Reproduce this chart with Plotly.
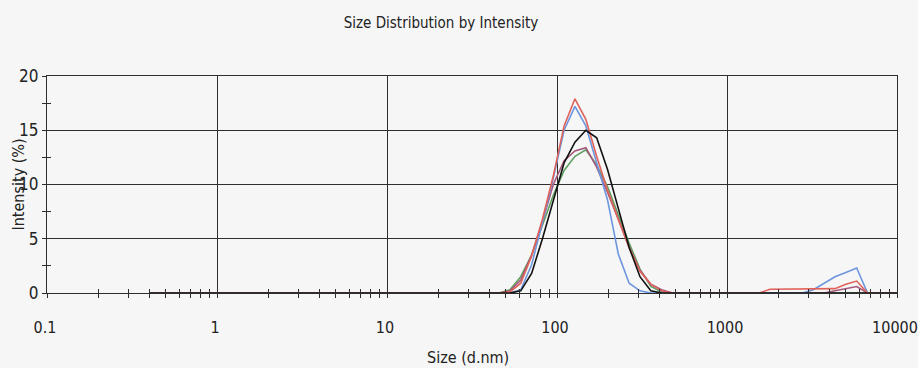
import plotly.graph_objects as go

# Size bins (d.nm)
sizes = [0.4, 45.6, 52.9, 61.2, 70.9, 82.1, 95.1, 110.1, 127.5, 147.8, 171.1, 198.1,
         229.4, 265.7, 307.7, 356.4, 412.7, 478.0, 553.5, 641.0, 742.0, 859.7, 995.5,
         1152, 1335, 1546, 1790, 2074, 2402, 2781, 3221, 3730, 4319, 5003, 5794, 6709,
         7769, 8998, 10000]

# Intensity (%) for each record
black = [0, 0, 0, 0.2, 1.8, 5.0, 8.4, 12.0, 13.9, 15.0, 14.3, 11.4, 7.8, 4.2, 1.5, 0.2, 0,
         0, 0, 0, 0, 0, 0, 0, 0, 0, 0, 0, 0, 0, 0, 0, 0, 0, 0, 0, 0, 0, 0]
green = [0, 0, 0.3, 1.5, 3.5, 6.2, 9.0, 11.3, 12.6, 13.2, 11.8, 9.8, 7.2, 4.6, 2.2, 0.6, 0.1,
         0, 0, 0, 0, 0, 0, 0, 0, 0, 0, 0, 0, 0, 0, 0, 0, 0, 0, 0, 0, 0, 0]
mauve = [0, 0, 0.2, 1.2, 3.5, 6.6, 10.0, 12.2, 13.1, 13.4, 11.6, 9.3, 6.8, 4.2, 2.1, 0.8, 0.3,
         0, 0, 0, 0, 0, 0, 0, 0, 0, 0, 0, 0, 0, 0, 0, 0.2, 0.4, 0.6, 0, 0, 0, 0]
blue = [0, 0, 0, 0.3, 2.6, 6.5, 10.6, 15.0, 17.2, 15.4, 12.0, 8.6, 3.6, 0.9, 0.2, 0, 0,
        0, 0, 0, 0, 0, 0, 0, 0, 0, 0, 0, 0, 0, 0.3, 0.9, 1.5, 1.9, 2.3, 0, 0, 0, 0]
red = [0, 0, 0.1, 0.9, 3.4, 6.8, 10.8, 15.4, 17.9, 16.0, 12.6, 9.5, 6.8, 4.2, 2.0, 0.8, 0.2,
       0, 0, 0, 0, 0, 0, 0, 0, 0, 0.35, 0.35, 0.35, 0.35, 0.35, 0.35, 0.4, 0.8, 1.1, 0, 0, 0, 0]

x_ticks = [0.1, 1, 10, 100, 1000, 10000]
x_ticktext = ["0.1", "1", "10", "100", "1000", "10000"]
y_ticks = [0, 5, 10, 15, 20]

FONT = "Liberation Sans Narrow, DejaVu Sans Condensed, Arial Narrow, Liberation Sans, Arial, sans-serif"
GRID = "#2e2e2e"
BG = "#f6f6f6"

series = [
    ("black", black, "#111111", "x2", "y2"),
    ("green", green, "#5f9e62", "x", "y"),
    ("mauve", mauve, "#a4577c", "x", "y"),
    ("blue", blue, "#6d96df", "x", "y"),
    ("red", red, "#e0625a", "x", "y"),
]

fig = go.Figure()
for name, vals, col, xa, ya in series:
    fig.add_trace(go.Scatter(x=sizes, y=vals, mode="lines", name=name,
                             line=dict(color=col, width=1.6),
                             xaxis=xa, yaxis=ya, showlegend=False))

common_x = dict(type="log", range=[-1, 4], tickvals=x_ticks, automargin=False)
common_y = dict(range=[0, 20], tickvals=y_ticks, automargin=False)

L, R, T, B = 47, 21, 76, 75
PW, PH = 918 - L - R, 368 - T - B
fig.update_layout(
    width=918, height=368,
    margin=dict(l=L, r=R, t=T, b=B),
    paper_bgcolor=BG, plot_bgcolor=BG,
    font=dict(family=FONT, size=17, color="#222222"),
    title=dict(text="Size Distribution by Intensity", x=441/918, xanchor="center",
               y=1 - 23/368, yanchor="middle", font=dict(size=15, family=FONT),
               automargin=False),
    xaxis=dict(**common_x, ticktext=x_ticktext, showgrid=True, gridcolor=GRID, gridwidth=1.3,
               showline=True, linecolor=GRID, linewidth=1.3, mirror=True,
               ticks="outside", ticklen=4, tickcolor=GRID, ticklabelstandoff=16,
               ticklabeloverflow="allow", ticklabelshift=-2, tickfont=dict(size=16),
               minor=dict(ticks="outside", ticklen=4, tickcolor=GRID, dtick="D1", showgrid=False),
               zeroline=False),
    yaxis=dict(**common_y, showgrid=True, gridcolor=GRID, gridwidth=1.3,
               showline=True, linecolor=GRID, linewidth=1.3, mirror=True,
               ticks="outside", ticklen=4, tickcolor=GRID,
               minor=dict(ticks="outside", ticklen=4, tickcolor=GRID, dtick=2.5, showgrid=False),
               zeroline=False),
    xaxis2=dict(**common_x, overlaying="x", anchor="y2", showgrid=False, showline=False,
                showticklabels=False, ticks="inside", ticklen=4, tickcolor=GRID,
                minor=dict(ticks="inside", ticklen=4, tickcolor=GRID, dtick="D1", showgrid=False),
                zeroline=False),
    yaxis2=dict(**common_y, overlaying="y", anchor="x2", side="left", showgrid=False,
                showline=False, showticklabels=False, ticks="inside", ticklen=4, tickcolor=GRID,
                minor=dict(ticks="inside", ticklen=4, tickcolor=GRID, dtick=2.5, showgrid=False),
                zeroline=False),
    annotations=[
        dict(text="Intensity (%)", textangle=-90, xref="paper", yref="paper",
             x=(18 - L) / PW, y=0.5, xanchor="center", yanchor="middle",
             showarrow=False, font=dict(size=16)),
        dict(text="Size (d.nm)", xref="paper", yref="paper",
             x=(468 - L) / PW, y=-(357 - (T + PH)) / PH, xanchor="center", yanchor="middle",
             showarrow=False, font=dict(size=16)),
    ],
)

fig.write_html("out.html")
